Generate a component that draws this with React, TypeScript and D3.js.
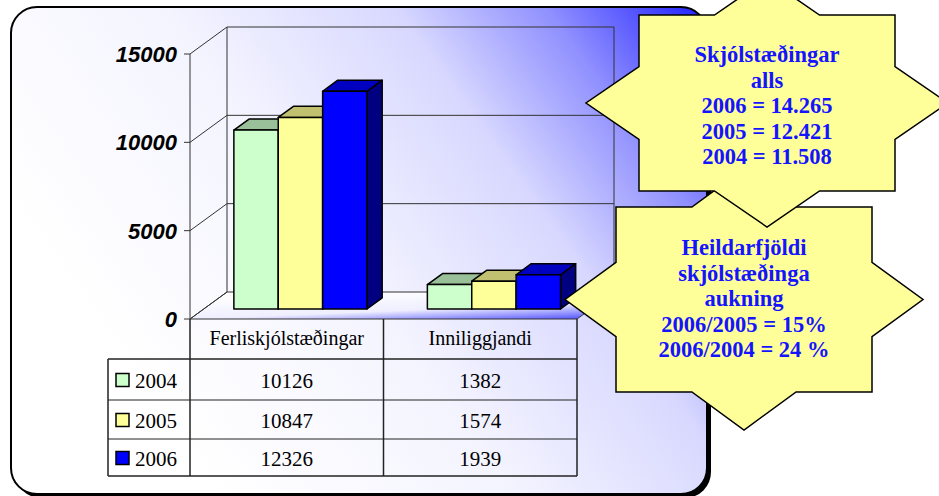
import React from 'react';
import * as d3 from 'd3';

const categories = ['Ferliskjólstæðingar', 'Inniliggjandi'];
const years = ['2004', '2005', '2006'];
const values2004 = [10126, 1382];
const values2005 = [10847, 1574];
const values2006 = [12326, 1939];
const yTicks = [0, 5000, 10000, 15000];

const star1Lines = ['Skjólstæðingar', 'alls', '2006 = 14.265', '2005 = 12.421', '2004 = 11.508'];
const star2Lines = ['Heildarfjöldi', 'skjólstæðinga', 'aukning', '2006/2005 = 15%', '2006/2004 = 24 %'];

const seriesValues = [values2004, values2005, values2006];
const frontColors = ['#ccffcc', '#ffff99', '#0000ff'];
const topColors = ['#99c099', '#c0c070', '#0000c0'];
const sideColors = ['#80a880', '#a8a860', '#000080'];

// 3d depth of the plot box
const DX = 37;
const DY = -27;
const depth = (f: number) => [DX * f, DY * f];

function starPoints(cx: number, cy: number, hw: number, hh: number, dw: number, dh: number) {
	const ix = (dw * (dh - hh)) / dh;
	const iy = -dh + (dh * hw) / dw;
	const q = [
		[0, -dh],
		[ix, -hh],
		[hw, -hh],
		[hw, iy],
		[dw, 0],
	];
	const pts: number[][] = [];
	q.forEach((p) => pts.push(p));
	[...q].reverse().slice(1).forEach((p) => pts.push([p[0], -p[1]]));
	const half = [...pts];
	[...half].reverse().slice(1, -1).forEach((p) => pts.push([-p[0], p[1]]));
	return pts.map((p) => `${cx + p[0]},${cy + p[1]}`).join(' ');
}

function Star({ cx, cy, hw, hh, dw, dh, lines, top }) {
	return (
		<g>
			<polygon points={starPoints(cx, cy, hw, hh, dw, dh)} fill="#ffff99" stroke="#000" strokeWidth={1.5} />
			{lines.map((t, i) => (
				<text
					key={i}
					x={cx}
					y={top + i * 25.5}
					textAnchor="middle"
					fontFamily="'Liberation Serif', 'Times New Roman', serif"
					fontWeight="bold"
					fontSize={22.5}
					fill="#1414ff"
				>
					{t}
				</text>
			))}
		</g>
	);
}

export default function App() {
	const width = 939;
	const height = 496;
	const x0 = 190;
	const x1 = 577;

	const y = d3.scaleLinear().domain([0, 15000]).range([319, 54]);
	const x = d3.scaleBand().domain(categories).range([x0, x1]);
	const xs = d3.scaleBand().domain(years).range([0, x.bandwidth()]).paddingInner(0).paddingOuter(0.68);

	const [fx, fy] = depth(0.37);
	const [bx, by] = depth(0.78);
	const sdx = bx - fx;
	const sdy = by - fy;

	const rows = [359, 400, 439, 476];
	const serif = "'Liberation Serif', 'Times New Roman', serif";

	return (
		<svg width={width} height={height} style={{ position: 'absolute', left: 0, top: 0 }}>
			<defs>
				<linearGradient id="bg" gradientUnits="userSpaceOnUse" x1={150} y1={400} x2={710} y2={0}>
					<stop offset="0" stopColor="#ffffff" />
					<stop offset="0.35" stopColor="#f4f4ff" />
					<stop offset="0.62" stopColor="#d8d8ff" />
					<stop offset="0.8" stopColor="#9090ff" />
					<stop offset="1" stopColor="#1a1aff" />
				</linearGradient>
				<linearGradient id="floor" x1="0.35" y1="0" x2="1" y2="1">
					<stop offset="0" stopColor="#ffffff" />
					<stop offset="0.55" stopColor="#eeeeff" />
					<stop offset="1" stopColor="#4848ff" />
				</linearGradient>
			</defs>

			{/* frame */}
			<rect x={15} y={11} width={696} height={487} rx={26} fill="#000" />
			<rect x={11} y={7} width={696} height={487} rx={26} fill="url(#bg)" stroke="#000" strokeWidth={2} />

			{/* floor */}
			<polygon
				points={`${x0},${y(0)} ${x1},${y(0)} ${x1 + DX},${y(0) + DY} ${x0 + DX},${y(0) + DY}`}
				fill="url(#floor)"
				stroke="#333"
				strokeWidth={1}
			/>

			{/* walls + grid */}
			<g stroke="#333" strokeWidth={1} fill="none">
				<line x1={x0 + DX} x2={x0 + DX} y1={y(15000) + DY} y2={y(0) + DY} />
				<line x1={x1 + DX} x2={x1 + DX} y1={y(15000) + DY} y2={y(0) + DY} />
				{yTicks.map((t) => (
					<g key={t}>
						<line x1={x0} y1={y(t)} x2={x0 + DX} y2={y(t) + DY} />
						{t > 0 && <line x1={x0 + DX} x2={x1 + DX} y1={y(t) + DY} y2={y(t) + DY} />}
					</g>
				))}
			</g>

			{/* bars */}
			{categories.map((c, ci) => (
				<g key={c}>
					{years.map((yr, si) => {
						const v = seriesValues[si][ci];
						const left = x(c) + xs(yr) + fx;
						const w = xs.bandwidth();
						const base = y(0) + fy;
						const top = y(v) + fy;
						return (
							<g key={yr} stroke="#000" strokeWidth={1.5} strokeLinejoin="round">
								<polygon
									points={`${left + w},${top} ${left + w + sdx},${top + sdy} ${left + w + sdx},${base + sdy} ${left + w},${base}`}
									fill={sideColors[si]}
								/>
								<polygon
									points={`${left},${top} ${left + sdx},${top + sdy} ${left + w + sdx},${top + sdy} ${left + w},${top}`}
									fill={topColors[si]}
								/>
								<rect x={left} y={top} width={w} height={base - top} fill={frontColors[si]} />
							</g>
						);
					})}
				</g>
			))}

			{/* y axis */}
			<line x1={x0} x2={x0} y1={y(15000)} y2={y(0)} stroke="#333" strokeWidth={1} />
			{yTicks.map((t) => (
				<g key={t}>
					<line x1={x0 - 6} x2={x0} y1={y(t)} y2={y(t)} stroke="#333" strokeWidth={1} />
					<text
						x={177}
						y={y(t) + 8}
						textAnchor="end"
						fontFamily="'Liberation Sans', Arial, sans-serif"
						fontStyle="italic"
						fontWeight="bold"
						fontSize={22}
						fill="#000"
					>
						{t}
					</text>
				</g>
			))}

			{/* data table */}
			<g stroke="#222" fill="none">
				<line x1={108} x2={x1} y1={rows[0]} y2={rows[0]} strokeWidth={1.5} />
				<line x1={108} x2={x1} y1={rows[1]} y2={rows[1]} strokeWidth={1} />
				<line x1={108} x2={x1} y1={rows[2]} y2={rows[2]} strokeWidth={1} />
				<line x1={108} x2={x1} y1={rows[3]} y2={rows[3]} strokeWidth={1.5} />
				<line x1={108} x2={108} y1={rows[0]} y2={rows[3]} strokeWidth={1.5} />
				<line x1={x0} x2={x0} y1={y(0)} y2={rows[3]} strokeWidth={1.5} />
				{categories.map((c) => (
					<line key={c} x1={x(c) + x.bandwidth()} x2={x(c) + x.bandwidth()} y1={y(0)} y2={rows[3]} strokeWidth={1.5} />
				))}
			</g>
			{categories.map((c) => (
				<text key={c} x={x(c) + x.bandwidth() / 2} y={345} textAnchor="middle" fontFamily={serif} fontSize={20} fill="#000">
					{c}
				</text>
			))}
			{years.map((yr, si) => {
				const cy = (rows[si] + rows[si + 1]) / 2;
				return (
					<g key={yr}>
						<rect x={116} y={cy - 6} width={13} height={13} fill={frontColors[si]} stroke="#000" strokeWidth={1.5} />
						<text x={135} y={cy + 8} fontFamily={serif} fontSize={21} fill="#000">
							{yr}
						</text>
						{categories.map((c, ci) => (
							<text
								key={c}
								x={x(c) + x.bandwidth() / 2}
								y={cy + 8}
								textAnchor="middle"
								fontFamily={serif}
								fontSize={21}
								fill="#000"
							>
								{seriesValues[si][ci]}
							</text>
						))}
					</g>
				);
			})}

			{/* callouts */}
			<Star cx={744} cy={299.5} hw={128} hh={92.5} dw={179} dh={130.5} lines={star2Lines} top={255} />
			<Star cx={767} cy={103} hw={128} hh={88} dw={181} dh={124} lines={star1Lines} top={62} />
		</svg>
	);
}
